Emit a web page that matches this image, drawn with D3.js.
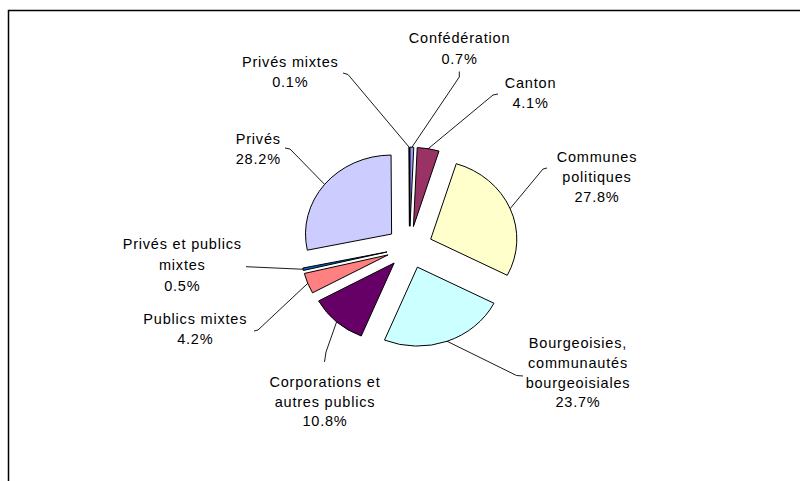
<!DOCTYPE html>
<html>
<head>
<meta charset="utf-8">
<script src="https://cdn.jsdelivr.net/npm/d3@7"></script>
<style>
  html, body { margin: 0; padding: 0; background: #fff; }
  svg { display: block; }
  text { font-family: "Liberation Sans", Arial, sans-serif; font-size: 14.5px; letter-spacing: 0.8px; fill: #000; }
</style>
</head>
<body>
<svg id="chart" width="800" height="481"></svg>
<script>
// Ownership shares, clockwise from 12 o'clock
const categories = [
  "Confédération",
  "Canton",
  "Communes\npolitiques",
  "Bourgeoisies,\ncommunautés\nbourgeoisiales",
  "Corporations et\nautres publics",
  "Publics mixtes",
  "Privés et publics\nmixtes",
  "Privés",
  "Privés mixtes"
];
const values = [0.7, 4.1, 27.8, 23.7, 10.8, 4.2, 0.5, 28.2, 0.1];
const colors = ["#9999FF", "#993366", "#FFFFCC", "#CCFFFF", "#660066", "#FF8080", "#0066CC", "#CCCCFF", "#000080"];

// Label placement: text centre, first baseline, and leader start / elbow
const labelLayout = [
  { x: 459.5, y: 42.5,  lh: 21,   start: [459.3, 71.5], elbow: [459.3, 77] },
  { x: 530.5, y: 87.7,  lh: 20,   start: [498, 94],     elbow: [493, 95] },
  { x: 597,   y: 161.7, lh: 20,   start: [547, 168],    elbow: [543, 169] },
  { x: 578,   y: 348.3, lh: 19.7, start: [523, 376],    elbow: [516.5, 375.5] },
  { x: 325,   y: 386.7, lh: 19.8, start: [324.5, 362],  elbow: [326, 352] },
  { x: 195.3, y: 324,   lh: 20,   start: [254, 331],    elbow: [258, 330] },
  { x: 182.3, y: 249.3, lh: 20.7, start: [246, 266.7],  elbow: [246, 266.7] },
  { x: 258.3, y: 144,   lh: 20,   start: [285, 148],    elbow: [290, 149] },
  { x: 290.3, y: 67.3,  lh: 20,   start: [343, 73],     elbow: [348, 74.5] }
];

const svg = d3.select("#chart");
const W = 800, H = 481;

// outer frame (runs past the right and bottom edges)
svg.append("rect")
  .attr("x", 8.5).attr("y", 10.5)
  .attr("width", W + 20).attr("height", H + 20)
  .attr("fill", "none").attr("stroke", "#000").attr("stroke-width", 1.5);

const cx = 409.5, cy = 247.3;
const R = 79;          // vertical radius
const sx = 1.09;       // horizontal stretch of the plot area
const explode = 21.1;  // explosion distance

const pie = d3.pie().sort(null).value(d => d.value).startAngle(0).endAngle(2 * Math.PI);
const data = values.map((v, i) => ({ name: categories[i], value: v, color: colors[i], layout: labelLayout[i] }));
const arcs = pie(data);
const arc = d3.arc().innerRadius(0).outerRadius(R);

const g = svg.append("g");

arcs.forEach(a => {
  const mid = (a.startAngle + a.endAngle) / 2;
  a.tip = [cx + Math.sin(mid) * explode * sx, cy - Math.cos(mid) * explode];
  a.outer = [a.tip[0] + Math.sin(mid) * R * sx, a.tip[1] - Math.cos(mid) * R];
});

g.selectAll("path.slice")
  .data(arcs)
  .join("path")
  .attr("class", "slice")
  .attr("transform", d => `translate(${d.tip[0]},${d.tip[1]}) scale(${sx},1)`)
  .attr("d", arc)
  .attr("fill", d => d.data.color)
  .attr("stroke", "#000")
  .attr("stroke-width", 1)
  .attr("stroke-linejoin", "miter")
  .attr("vector-effect", "non-scaling-stroke");

// leader lines
const line = d3.line();
g.selectAll("path.leader")
  .data(arcs)
  .join("path")
  .attr("class", "leader")
  .attr("d", d => line([d.data.layout.start, d.data.layout.elbow, d.outer]))
  .attr("fill", "none")
  .attr("stroke", "#000")
  .attr("stroke-width", 0.9);

// labels
const fmt = v => v.toFixed(1) + "%";
const labels = g.selectAll("text.label")
  .data(arcs)
  .join("text")
  .attr("class", "label")
  .attr("text-anchor", "middle");

labels.each(function(d) {
  const lines = d.data.name.split("\n").concat([fmt(d.data.value)]);
  const L = d.data.layout;
  d3.select(this).selectAll("tspan")
    .data(lines)
    .join("tspan")
    .attr("x", L.x)
    .attr("y", (t, i) => L.y + i * L.lh)
    .text(t => t);
});
</script>
</body>
</html>
